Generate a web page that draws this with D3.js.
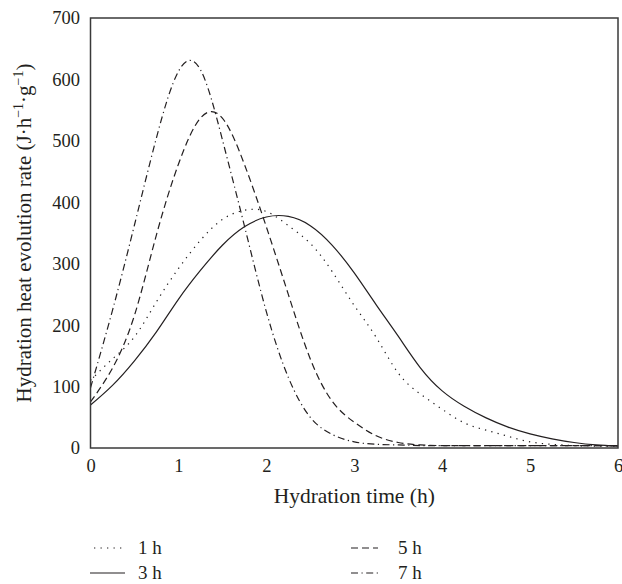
<!DOCTYPE html>
<html>
<head>
<meta charset="utf-8">
<script src="https://cdn.jsdelivr.net/npm/d3@7/dist/d3.min.js"></script>
<style>
  body { margin: 0; background: #fff; }
  svg { display: block; font-family: "Liberation Serif", "DejaVu Serif", serif; }
</style>
</head>
<body>
<svg id="chart"></svg>
<script>
// hydration time (h), sampled every 15 min
const hours = [0, 0.25, 0.5, 0.75, 1, 1.25, 1.5, 1.75, 2, 2.25, 2.5, 2.75, 3,
  3.25, 3.5, 3.75, 4, 4.25, 4.5, 4.75, 5, 5.25, 5.5, 5.75, 6];

// heat evolution rate (J/h/g)
const rate1h = [110, 145, 181, 238, 292, 338, 372, 387, 385, 362, 333, 287, 232,
  180, 122, 88, 63, 41, 29, 19, 10, 6, 4, 3, 3];
const rate3h = [70, 102, 142, 189, 242, 289, 330, 360, 376, 377, 362, 330, 285,
  233, 182, 131, 93, 68, 49, 34, 23, 15, 9, 5, 3];
const rate5h = [75, 130, 216, 347, 462, 537, 537, 462, 360, 250, 145, 76, 42,
  20, 9, 5, 4, 4, 4, 4, 4, 4, 4, 4, 4];
const rate7h = [98, 224, 363, 505, 613, 616, 502, 362, 222, 115, 50, 22, 10,
  6, 5, 4, 4, 4, 4, 4, 4, 4, 4, 4, 4];

const seriesNames = ["1 h", "3 h", "5 h", "7 h"];
const xTicks = [0, 1, 2, 3, 4, 5, 6];
const yTicks = [0, 100, 200, 300, 400, 500, 600, 700];

const width = 622, height = 584;
const margin = { top: 18, right: 4, bottom: 136, left: 90.5 };

const svg = d3.select("#chart")
  .attr("width", width)
  .attr("height", height)
  .style("background", "#fff");

const x = d3.scaleLinear().domain([0, 6]).range([margin.left, width - margin.right]);
const y = d3.scaleLinear().domain([0, 700]).range([height - margin.bottom, margin.top]);

// dash style per series
const dashes = {
  "1 h": "1.3,5.2",
  "3 h": null,
  "5 h": "7,4",
  "7 h": "7,3.5,1.2,3.5"
};

const series = [
  { name: seriesNames[0], values: rate1h },
  { name: seriesNames[1], values: rate3h },
  { name: seriesNames[2], values: rate5h },
  { name: seriesNames[3], values: rate7h }
];

// axes (no tick marks, just labels)
const xAxis = svg.append("g")
  .attr("transform", `translate(0,${y(0)})`)
  .call(d3.axisBottom(x).tickValues(xTicks).tickSize(0).tickPadding(11).tickFormat(d3.format("d")));
xAxis.select(".domain").remove();

const yAxis = svg.append("g")
  .attr("transform", `translate(${x(0)},0)`)
  .call(d3.axisLeft(y).tickValues(yTicks).tickSize(0).tickPadding(10.5).tickFormat(d3.format("d")));
yAxis.select(".domain").remove();

svg.selectAll(".tick text")
  .attr("font-family", "Liberation Serif, DejaVu Serif, serif")
  .attr("font-size", 18.5)
  .attr("fill", "#231f20");

const line = d3.line()
  .x((d, i) => x(hours[i]))
  .y(d => y(d))
  .curve(d3.curveNatural);

svg.append("g")
  .selectAll("path")
  .data(series)
  .join("path")
  .attr("fill", "none")
  .attr("stroke", "#231f20")
  .attr("stroke-width", 1.2)
  .attr("stroke-dasharray", d => dashes[d.name])
  .attr("d", d => line(d.values));

// plot frame
svg.append("rect")
  .attr("x", x(0))
  .attr("y", y(700))
  .attr("width", x(6) - x(0))
  .attr("height", y(0) - y(700))
  .attr("fill", "none")
  .attr("stroke", "#3a3a3a")
  .attr("stroke-width", 1.5);

// axis titles
svg.append("text")
  .attr("x", (x(0) + x(6)) / 2)
  .attr("y", 503)
  .attr("text-anchor", "middle")
  .attr("font-size", 21.5)
  .attr("fill", "#231f20")
  .text("Hydration time (h)");

const yTitle = svg.append("text")
  .attr("transform", "rotate(-90)")
  .attr("x", -(y(0) + y(700)) / 2)
  .attr("y", 31)
  .attr("text-anchor", "middle")
  .attr("font-size", 21)
  .attr("fill", "#231f20");
yTitle.append("tspan").text("Hydration heat evolution rate (J·h");
yTitle.append("tspan").attr("font-size", 14).attr("dy", -8).text("−1");
yTitle.append("tspan").attr("dy", 8).text("·g");
yTitle.append("tspan").attr("font-size", 14).attr("dy", -8).text("−1");
yTitle.append("tspan").attr("dy", 8).text(")");

// legend, two columns
const legendPos = [
  { name: "1 h", x0: 94, x1: 123, y: 548 },
  { name: "3 h", x0: 90, x1: 125, y: 573 },
  { name: "5 h", x0: 351, x1: 378, y: 548 },
  { name: "7 h", x0: 351, x1: 378, y: 573 }
];

const legend = svg.append("g")
  .selectAll("g")
  .data(legendPos)
  .join("g");

legend.append("line")
  .attr("x1", d => d.x0)
  .attr("x2", d => d.x1)
  .attr("y1", d => d.y)
  .attr("y2", d => d.y)
  .attr("stroke", "#231f20")
  .attr("stroke-width", 1.2)
  .attr("stroke-dasharray", d => dashes[d.name]);

legend.append("text")
  .attr("x", d => d.x0 < 200 ? 138 : 398)
  .attr("y", d => d.y + 6)
  .attr("font-size", 19)
  .attr("fill", "#231f20")
  .text(d => d.name);
</script>
</body>
</html>
